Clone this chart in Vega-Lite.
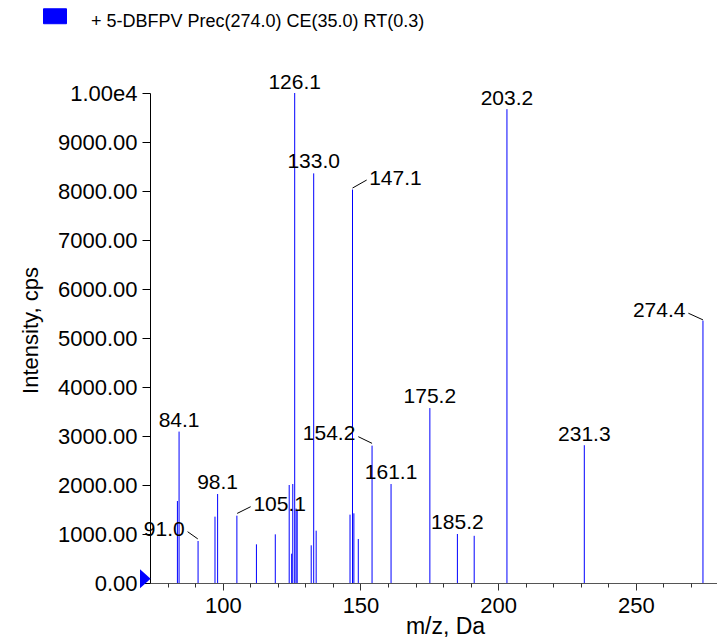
{
  "$schema": "https://vega.github.io/schema/vega-lite/v6.json",
  "width": 567,
  "height": 490,
  "autosize": {"type": "none"},
  "padding": {"left": 150, "top": 93, "right": 0, "bottom": 58},
  "config": {"view": {"stroke": null}, "font": "Liberation Sans", "text": {"font": "Liberation Sans"}, "axis": {"labelOverlap": false}},
  "resolve": {"axis": {"x": "independent"}},
  "datasets": {
    "peaks": [
      {"mz": 83.5, "intensity": 1673},
      {"mz": 84.1, "intensity": 3090},
      {"mz": 91.0, "intensity": 857},
      {"mz": 97.15, "intensity": 1354},
      {"mz": 98.1, "intensity": 1816},
      {"mz": 105.1, "intensity": 1374},
      {"mz": 112.2, "intensity": 789},
      {"mz": 119.05, "intensity": 993},
      {"mz": 124.1, "intensity": 2000},
      {"mz": 125.0, "intensity": 598},
      {"mz": 125.4, "intensity": 2020},
      {"mz": 126.1, "intensity": 10000},
      {"mz": 126.6, "intensity": 1520},
      {"mz": 127.0, "intensity": 1480},
      {"mz": 132.1, "intensity": 769},
      {"mz": 133.0, "intensity": 8360},
      {"mz": 133.9, "intensity": 1068},
      {"mz": 146.2, "intensity": 1395},
      {"mz": 147.1, "intensity": 8030},
      {"mz": 147.6, "intensity": 1422},
      {"mz": 149.2, "intensity": 898},
      {"mz": 154.2, "intensity": 2803},
      {"mz": 161.1, "intensity": 2020},
      {"mz": 175.2, "intensity": 3570},
      {"mz": 185.2, "intensity": 1000},
      {"mz": 191.3, "intensity": 963},
      {"mz": 203.2, "intensity": 9670},
      {"mz": 231.3, "intensity": 2812},
      {"mz": 274.4, "intensity": 5355}
    ],
    "labels": [
      {"label": "84.1", "lx": 84.1, "ly": 3192},
      {"label": "91.0", "lx": 78.7, "ly": 965},
      {"label": "98.1", "lx": 98.1, "ly": 1918},
      {"label": "105.1", "lx": 120.65, "ly": 1476},
      {"label": "126.1", "lx": 126.1, "ly": 10080},
      {"label": "133.0", "lx": 133.0, "ly": 8462},
      {"label": "147.1", "lx": 162.7, "ly": 8122},
      {"label": "154.2", "lx": 138.6, "ly": 2918},
      {"label": "161.1", "lx": 161.1, "ly": 2122},
      {"label": "175.2", "lx": 175.2, "ly": 3670},
      {"label": "185.2", "lx": 185.2, "ly": 1092},
      {"label": "203.2", "lx": 203.2, "ly": 9760},
      {"label": "231.3", "lx": 231.3, "ly": 2905},
      {"label": "274.4", "lx": 258.5, "ly": 5429}
    ],
    "leaders": [
      {"x1": 87.2, "y1": 1047, "x2": 90.9, "y2": 900},
      {"x1": 105.2, "y1": 1420, "x2": 110.1, "y2": 1557},
      {"x1": 147.1, "y1": 8060, "x2": 152.25, "y2": 8224},
      {"x1": 149.2, "y1": 2986, "x2": 154.2, "y2": 2850},
      {"x1": 269.1, "y1": 5506, "x2": 274.4, "y2": 5370}
    ],
    "marker": [
      {"mz": 71.83, "intensity": 86}
    ]
  },
  "layer": [
    {
      "data": {"name": "peaks"},
      "mark": {"type": "rule", "strokeWidth": 1},
      "encoding": {
        "x": {
          "field": "mz", "type": "quantitative",
          "scale": {"domain": [73.54, 279.5], "nice": false, "zero": false},
          "axis": {
            "orient": "bottom",
            "values": [100, 150, 200, 250],
            "tickSize": 7,
            "labelFontSize": 22,
            "labelPadding": 5,
            "labelOverlap": false,
            "labelFlush": false,
            "labelColor": "black",
            "title": "m/z, Da",
            "titleFontSize": 23,
            "titleFontWeight": "normal",
            "titleColor": "black",
            "titleX": 295,
            "titleY": 50,
            "titleBaseline": "alphabetic",
            "grid": false,
            "domainColor": "#555555",
            "tickColor": "#333333"
          }
        },
        "y": {
          "field": "intensity", "type": "quantitative",
          "scale": {"domain": [0, 10000], "nice": false},
          "axis": {
            "values": [0, 500, 1000, 1500, 2000, 2500, 3000, 3500, 4000, 4500, 5000, 5500, 6000, 6500, 7000, 7500, 8000, 8500, 9000, 9500, 10000],
            "labelExpr": "datum.value % 1000 !== 0 ? '' : (datum.value >= 10000 ? '1.00e4' : format(datum.value, '.2f'))",
            "tickSize": {"condition": {"test": "datum.value % 1000 === 0", "value": 8}, "value": 4},
            "labelFontSize": 22,
            "labelPadding": 5,
            "labelOverlap": false,
            "labelColor": "black",
            "title": "Intensity, cps",
            "titleFontSize": 22,
            "titleFontWeight": "normal",
            "titleColor": "black",
            "titleAngle": -90,
            "titleX": -113,
            "titleY": 237,
            "titleAlign": "center",
            "titleBaseline": "alphabetic",
            "grid": false,
            "domainColor": "black",
            "tickColor": "black"
          }
        },
        "y2": {"datum": 0},
        "color": {
          "datum": "+ 5-DBFPV Prec(274.0) CE(35.0) RT(0.3)",
          "type": "nominal",
          "scale": {"range": ["#0000ff"]},
          "legend": {
            "orient": "none",
            "legendX": -107,
            "legendY": -83,
            "title": null,
            "padding": 0,
            "symbolType": "M-1,-1.15H1V0.15H-1Z",
            "symbolSize": 529,
            "symbolFillColor": "#0000ff",
            "symbolStrokeColor": "black",
            "symbolStrokeWidth": 1,
            "labelFontSize": 18,
            "labelOffset": 24,
            "labelColor": "black",
            "labelLimit": 600,
            "encode": {
              "symbols": {
                "update": {
                  "fill": {"value": "#0000ff"},
                  "stroke": {"value": "#000033"},
                  "strokeWidth": {"value": 1},
                  "opacity": {"value": 1}
                }
              }
            }
          }
        }
      }
    },
    {
      "data": {"name": "leaders"},
      "mark": {"type": "rule", "color": "black", "strokeWidth": 1},
      "encoding": {
        "x": {"field": "x1", "type": "quantitative", "axis": null},
        "y": {"field": "y1", "type": "quantitative"},
        "x2": {"field": "x2"},
        "y2": {"field": "y2"}
      }
    },
    {
      "data": {"name": "labels"},
      "mark": {"type": "text", "fontSize": 21, "baseline": "alphabetic", "align": "center", "color": "black"},
      "encoding": {
        "x": {"field": "lx", "type": "quantitative", "axis": null},
        "y": {"field": "ly", "type": "quantitative"},
        "text": {"field": "label"}
      }
    },
    {
      "data": {"name": "marker"},
      "mark": {"type": "point", "shape": "M-0.56,-1L0.56,0L-0.56,1Z", "filled": true, "size": 361, "color": "#0000ff", "opacity": 1},
      "encoding": {
        "x": {
          "field": "mz", "type": "quantitative",
          "axis": {
            "orient": "bottom",
            "values": [80, 90, 110, 120, 130, 140, 160, 170, 180, 190, 210, 220, 230, 240, 260, 270],
            "labels": false,
            "domain": false,
            "grid": false,
            "tickSize": 4,
            "tickColor": "#333333",
            "title": null
          }
        },
        "y": {"field": "intensity", "type": "quantitative"}
      }
    }
  ]
}
